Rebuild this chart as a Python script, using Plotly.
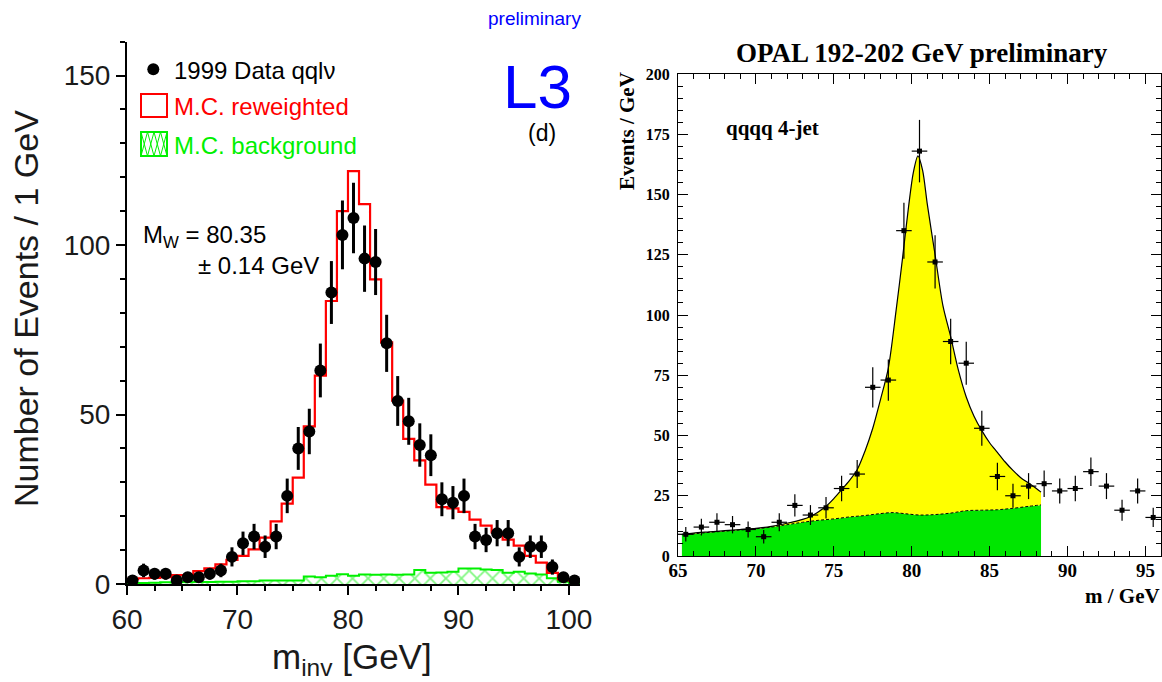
import numpy as np
import plotly.graph_objects as go

W, H = 1162, 682

# ---------------- L3 qqlv panel (1 GeV bins, 60-101 GeV) ----------------
l3_edges = list(range(60, 102))
l3_centers = [e + 0.5 for e in range(60, 101)]
l3_data = [1, 4, 3, 3, 1, 2, 2, 3, 4, 8, 12, 14, 11, 14, 26, 40, 45, 63, 86, 103,
           108, 96, 95, 71, 54, 48, 41, 38, 25, 24, 26, 14, 13, 15, 15, 8, 11, 11, 5, 2, 1]
l3_mc = [1.5, 1.7, 1.8, 2.0, 2.6, 2.6, 3.8, 4.6, 5.8, 7.1, 8.3, 10.2, 13.7, 18.5, 23.7,
         31.4, 46.5, 61.5, 83.5, 110.0, 121.8, 112.1, 89.9, 71.3, 54.1, 42.8, 36.5, 29.3,
         22.7, 22.3, 21.3, 19.0, 17.2, 15.2, 13.1, 11.3, 8.3, 6.3, 3.3, 1.4, 1.0]
l3_bkg = [0.2, 0.3, 0.4, 0.5, 0.5, 0.6, 0.6, 0.6, 0.7, 0.7, 0.8, 0.8, 1.0, 1.0, 1.0,
          1.0, 2.2, 2.0, 2.4, 2.9, 2.4, 2.8, 2.7, 2.8, 2.7, 2.8, 4.1, 3.3, 3.4, 3.6,
          4.6, 4.6, 4.3, 4.1, 3.3, 3.6, 3.1, 2.8, 1.7, 0.7, 0.3]
l3_xticks = [60, 70, 80, 90, 100]
l3_yticks = [0, 50, 100, 150]

# ---------------- OPAL qqqq panel ----------------
opal_centers = [m + 0.5 for m in range(65, 96)]
opal_data = [9, 12, 14, 13, 11, 8, 14, 21, 17, 20, 28, 34, 70, 73, 135, 168, 122, 89,
             80, 53, 33, 25, 29, 30, 27, 28, 35, 29, 19, 27, 16]
opal_fit_m = [65.25, 66, 67, 68, 69, 70, 71, 72, 73, 73.5, 74, 74.5, 75, 75.5, 76, 76.5,
              77, 77.5, 78, 78.5, 79, 79.4, 79.8, 80.1, 80.4, 80.7, 81, 81.5, 82, 82.5,
              83, 83.5, 84, 84.5, 85, 85.5, 86, 86.5, 87, 87.5, 88, 88.3]
opal_fit_v = [9.0, 9.5, 10.0, 10.5, 11.0, 11.5, 12.3, 13.6, 15.2, 16.4, 18.3, 20.6, 23.8,
              27.5, 31.3, 35.8, 43.5, 53, 65, 78, 102, 123, 145, 159, 166, 160, 146, 125,
              104, 91, 77, 66, 58, 52, 47, 43, 39, 35.5, 32.5, 30.3, 28, 26.5]
opal_bg_m = [65.25, 66, 67, 68, 69, 70, 71, 72, 73, 74, 75, 76, 77, 78, 78.8, 79.5, 80.5,
             81.5, 82.5, 83.5, 84.5, 85.5, 86.5, 87.5, 88.3]
opal_bg_v = [8.8, 9.2, 9.8, 10.3, 10.8, 11.3, 12.0, 13.0, 14.0, 14.8, 15.4, 16.2, 16.8,
             17.6, 18.0, 17.6, 17.0, 17.2, 17.8, 18.8, 19.0, 19.2, 19.8, 20.6, 21.2]
opal_xticks = [65, 70, 75, 80, 85, 90, 95]
opal_yticks = [0, 25, 50, 75, 100, 125, 150, 175, 200]

SANS = "Liberation Sans, Arial, sans-serif"
SERIF = "Liberation Serif, Times New Roman, serif"
GREEN = "#00f000"
BLUE = "#0000ff"


def px(x):
    return x / W


def py(y):
    return 1 - y / H


fig = go.Figure()

# L3: hatched background histogram
fig.add_trace(go.Bar(
    x=l3_centers, y=l3_bkg, width=1.0, xaxis="x", yaxis="y",
    marker=dict(color="rgba(0,0,0,0)", line=dict(width=0),
                pattern=dict(shape="x", fgcolor=GREEN, bgcolor="rgba(0,0,0,0)",
                             size=11, solidity=0.3, fillmode="overlay")),
    showlegend=False, hoverinfo="skip"))
fig.add_trace(go.Scatter(
    x=l3_edges, y=l3_bkg + [l3_bkg[-1]], mode="lines", line_shape="hv",
    line=dict(color=GREEN, width=2), xaxis="x", yaxis="y", showlegend=False))
# L3: reweighted MC histogram
fig.add_trace(go.Scatter(
    x=l3_edges, y=l3_mc + [l3_mc[-1]], mode="lines", line_shape="hv",
    line=dict(color="#ff0000", width=2.2), xaxis="x", yaxis="y", showlegend=False))
# L3: data with Poisson errors
fig.add_trace(go.Scatter(
    x=l3_centers, y=l3_data, mode="markers", xaxis="x", yaxis="y",
    marker=dict(color="black", size=12),
    error_y=dict(type="data", array=np.sqrt(l3_data), color="black", thickness=3, width=0),
    showlegend=False))

# OPAL: background and total fit
fig.add_trace(go.Scatter(
    x=opal_bg_m, y=opal_bg_v, mode="lines", line_shape="spline",
    line=dict(color="black", width=1, dash="3px,2px"), fill="tozeroy", fillcolor="#00e600",
    xaxis="x2", yaxis="y2", showlegend=False))
fig.add_trace(go.Scatter(
    x=opal_fit_m, y=opal_fit_v, mode="lines", line_shape="spline",
    line=dict(color="black", width=1.2, smoothing=0.8), fill="tonexty", fillcolor="#ffff00",
    xaxis="x2", yaxis="y2", showlegend=False))
# OPAL: data
fig.add_trace(go.Scatter(
    x=opal_centers, y=opal_data, mode="markers", xaxis="x2", yaxis="y2",
    marker=dict(color="black", size=5, symbol="square"),
    error_y=dict(type="data", array=np.sqrt(opal_data), color="black", thickness=1.2, width=0),
    error_x=dict(type="constant", value=0.5, color="black", thickness=1.2, width=0),
    showlegend=False))

l3_dom_x = [px(127), px(580)]
l3_dom_y = [py(584), py(41.7)]
op_dom_x = [px(678), px(1161)]
op_dom_y = [py(556), py(74)]

tickfont_l3 = dict(family=SANS, size=28, color="#1a1a1a")
tickfont_opx = dict(family=SERIF, size=19, color="black", weight="bold")
tickfont_opy = dict(family=SERIF, size=16, color="black", weight="bold")

fig.update_layout(
    width=W, height=H, margin=dict(l=0, r=0, t=0, b=0, autoexpand=False),
    paper_bgcolor="white", plot_bgcolor="white", barmode="overlay",
    xaxis=dict(domain=l3_dom_x, anchor="y", range=[60, 101], tickvals=l3_xticks,
               ticks="outside", ticklen=9, tickwidth=2, tickcolor="black",
               minor=dict(dtick=2.5, tick0=60, ticks="outside", ticklen=5, tickwidth=2, tickcolor="black"),
               showline=True, linewidth=2, linecolor="black", showgrid=False, zeroline=False,
               tickfont=tickfont_l3, automargin=False),
    yaxis=dict(domain=l3_dom_y, anchor="x", range=[0, 160], tickvals=l3_yticks,
               ticks="outside", ticklen=9, tickwidth=2, tickcolor="black",
               minor=dict(dtick=10, tick0=0, ticks="outside", ticklen=5, tickwidth=2, tickcolor="black"),
               showline=True, linewidth=2, linecolor="black", showgrid=False, zeroline=False,
               tickfont=tickfont_l3, automargin=False),
    xaxis3=dict(overlaying="x", anchor="y", side="top", range=[60, 101], tickvals=l3_xticks,
                ticks="inside", ticklen=11, tickwidth=2, tickcolor="black",
                minor=dict(dtick=2.5, tick0=60, ticks="inside", ticklen=5, tickwidth=2, tickcolor="black"),
                showticklabels=False, showline=True, linewidth=2, linecolor="black",
                showgrid=False, zeroline=False, automargin=False),
    yaxis3=dict(overlaying="y", anchor="x", side="right", range=[0, 160], tickvals=l3_yticks,
                ticks="inside", ticklen=9, tickwidth=2, tickcolor="black",
                minor=dict(dtick=10, tick0=0, ticks="inside", ticklen=5, tickwidth=2, tickcolor="black"),
                showticklabels=False, showline=True, linewidth=2, linecolor="black",
                showgrid=False, zeroline=False, automargin=False),
    xaxis2=dict(domain=op_dom_x, anchor="y2", range=[65, 96], tickvals=opal_xticks,
                ticks="inside", ticklen=10, tickwidth=1, tickcolor="black",
                minor=dict(dtick=1, tick0=65, ticks="inside", ticklen=5, tickwidth=1, tickcolor="black"),
                showline=True, linewidth=1, linecolor="black", mirror="ticks",
                showgrid=False, zeroline=False, tickfont=tickfont_opx, automargin=False,
                ticklabelstandoff=-3),
    yaxis2=dict(domain=op_dom_y, anchor="x2", range=[0, 200], tickvals=opal_yticks,
                ticks="inside", ticklen=10, tickwidth=1, tickcolor="black",
                minor=dict(dtick=5, tick0=0, ticks="inside", ticklen=5, tickwidth=1, tickcolor="black"),
                showline=True, linewidth=1, linecolor="black", mirror="ticks",
                showgrid=False, zeroline=False, tickfont=tickfont_opy, automargin=False,
                ticklabelstandoff=4),
)

ann = []


def text(x, y, s, size, color="black", family=SANS, xanchor="left", yanchor="middle", angle=0):
    ann.append(dict(x=px(x), y=py(y), xref="paper", yref="paper", text=s, showarrow=False,
                    xanchor=xanchor, yanchor=yanchor, textangle=angle,
                    font=dict(family=family, size=size, color=color)))


# L3 labels
text(583, 19, "preliminary", 19, BLUE, xanchor="right")
text(574, 86, "L3", 62, BLUE, xanchor="right")
text(558, 133, "(d)", 23, xanchor="right")
text(172, 70, "1999 Data qqlν", 24)
text(172, 107, "M.C. reweighted", 24, "#ff0000")
text(172, 145, "M.C. background", 24, GREEN)
text(141, 236, "M<sub>W</sub> = 80.35", 24)
text(196, 265, "± 0.14 GeV", 24)
text(26, 309, "Number of Events / 1 GeV", 34, "#1a1a1a", xanchor="center", angle=-90)
text(352, 659, "m<sub>inv</sub> [GeV]", 35, "#1a1a1a", xanchor="center")

# OPAL labels
text(922, 53, "<b>OPAL 192-202 GeV preliminary</b>", 27, family=SERIF, xanchor="center")
text(724, 128, "<b>qqqq 4-jet</b>", 21, family=SERIF)
text(627, 131, "<b>Events / GeV</b>", 21, family=SERIF, xanchor="center", angle=-90)
text(1162, 596, "<b>m / GeV</b>", 21, family=SERIF, xanchor="right")

fig.update_layout(annotations=ann)

# legend symbols for the L3 panel
shapes = [
    dict(type="circle", xref="paper", yref="paper", x0=px(147.3), x1=px(159.3),
         y0=py(75.3), y1=py(63.3), fillcolor="black", line=dict(width=0)),
    dict(type="rect", xref="paper", yref="paper", x0=px(141), x1=px(167),
         y0=py(117), y1=py(94), line=dict(color="#ff0000", width=2)),
    dict(type="rect", xref="paper", yref="paper", x0=px(141), x1=px(167),
         y0=py(156), y1=py(132), line=dict(color=GREEN, width=2)),
]
# cross-hatching inside the background legend box
hatch = ""
for k in range(4):
    xa, xb = 141 + k * 6.5, 141 + (k + 1) * 6.5
    hatch += f"M {px(xa)} {py(132)} L {px(xb)} {py(156)} M {px(xb)} {py(132)} L {px(xa)} {py(156)} "
shapes.append(dict(type="path", xref="paper", yref="paper", path=hatch,
                   line=dict(color=GREEN, width=1)))
fig.update_layout(shapes=shapes)

fig.write_html("out.html")
